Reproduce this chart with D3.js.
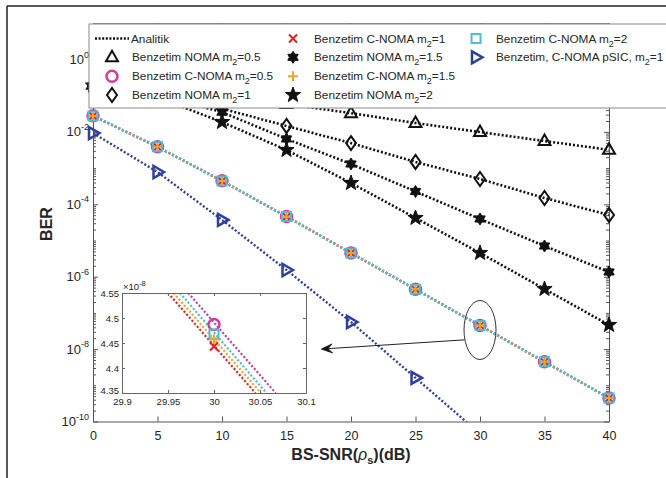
<!DOCTYPE html>
<meta charset="utf-8">
<style>
body { margin: 0; background: #fff; }
text { font-family: "Liberation Sans", Arial, sans-serif; fill: #262626; }
</style>
<svg width="666" height="478"></svg>
<script src="https://d3js.org/d3.v7.min.js"></script>
<script>

// ---- data ----
var snrDb = [0, 5, 10, 15, 20, 25, 30, 35, 40];
var snrTicks = [0, 5, 10, 15, 20, 25, 30, 35, 40];

var berNomaM05 = [0.2, 0.17, 0.105, 0.059, 0.033, 0.0176, 0.0099, 0.0056, 0.0032];
var berNomaM1  = [0.19, 0.12, 0.044, 0.0146, 0.0049, 0.00148, 5.0e-4, 1.49e-4, 5.06e-5];
var berNomaM15 = [0.19, 0.11, 0.035, 0.0064, 0.0013, 2.26e-4, 3.93e-5, 7.05e-6, 1.35e-6];
var berNomaM2  = [0.19, 0.09, 0.0187, 0.00316, 3.87e-4, 4.19e-5, 4.52e-6, 4.57e-7, 4.64e-8];

var berCnomaM05 = [2.8e-2, 3.9e-3, 4.45e-4, 4.6e-5, 4.55e-6, 4.5e-7, 4.487e-8, 4.48e-9, 4.47e-10];
var berCnomaM1  = [2.75e-2, 3.85e-3, 4.4e-4, 4.55e-5, 4.5e-6, 4.46e-7, 4.443e-8, 4.44e-9, 4.43e-10];
var berCnomaM15 = [2.76e-2, 3.86e-3, 4.42e-4, 4.56e-5, 4.52e-6, 4.47e-7, 4.457e-8, 4.45e-9, 4.44e-10];
var berCnomaM2  = [2.77e-2, 3.87e-3, 4.43e-4, 4.57e-5, 4.53e-6, 4.48e-7, 4.468e-8, 4.46e-9, 4.45e-10];

var snrPsic = [0, 5, 10, 15, 20, 25, 30];
var berPsicM1 = [9.3e-3, 7.8e-4, 3.7e-5, 1.53e-6, 5.6e-8, 1.6e-9, 4.6e-11];

var berMajorExp = [-10, -8, -6, -4, -2, 0];

// zoomed inset (x10^-8), analytic curves read where they cross the box
var insetBerEnds = [4.55, 4.35];
var insetRedX     = [29.950, 30.045];
var insetOrangeX  = [29.956, 30.051];
var insetCyanX    = [29.963, 30.057];
var insetMagentaX = [29.972, 30.067];
var insetXTicks = [29.9, 29.95, 30, 30.05, 30.1];
var insetYTicks = [4.35, 4.4, 4.45, 4.5, 4.55];

var legendLabels = [
  "Analitik", "Benzetim NOMA m2=0.5", "Benzetim C-NOMA m2=0.5", "Benzetim NOMA m2=1",
  "Benzetim C-NOMA m2=1", "Benzetim NOMA m2=1.5", "Benzetim C-NOMA m2=1.5", "Benzetim NOMA m2=2",
  "Benzetim C-NOMA m2=2", "Benzetim, C-NOMA pSIC, m2=1"
];

// ---- setup ----
var svg = d3.select("svg");
var magenta = "#d93a9c", magentaLine = "#b83fb8", red = "#ee1c1c",
    orange = "#f0a526", cyan = "#48bfd6", blue = "#2f3f9f";

var x = d3.scaleLinear().domain([0, 40]).range([93, 609]);
var y = d3.scaleLog().domain([1e-10, 1e1]).range([421.5, 23.3]);

// figure frame (top + left edge)
svg.append("line").attr("x1", 7).attr("x2", 666).attr("y1", 6).attr("y2", 6)
  .attr("stroke", "#222").attr("stroke-width", 1.5);
svg.append("line").attr("x1", 7).attr("x2", 7).attr("y1", 6).attr("y2", 478)
  .attr("stroke", "#222").attr("stroke-width", 1.5);

// marker shapes
function starPath(n, ro, ri) {
  var p = [];
  for (var i = 0; i < 2 * n; i++) {
    var r = i % 2 ? ri : ro, a = -Math.PI / 2 + i * Math.PI / n;
    p.push([r * Math.cos(a), r * Math.sin(a)]);
  }
  return "M" + p.map(function(d) { return d[0].toFixed(2) + "," + d[1].toFixed(2); }).join("L") + "Z";
}
var markers = {
  triUp:   { d: "M0,-6.5L6,4L-6,4Z", fill: "none" },
  triRight:{ d: "M6.5,0L-4,-6L-4,6Z", fill: "none" },
  diamond: { d: "M0,-7L5,0L0,7L-5,0Z", fill: "none" },
  circle:  { d: "M5.5,0A5.5,5.5 0 1,1 -5.5,0A5.5,5.5 0 1,1 5.5,0Z", fill: "none" },
  square:  { d: "M-4.5,-4.5H4.5V4.5H-4.5Z", fill: "none" },
  cross:   { d: "M-4,-4L4,4M-4,4L4,-4", fill: "none" },
  plus:    { d: "M-5,0H5M0,-5V5", fill: "none" },
  star:    { d: starPath(5, 8, 3.3), fill: "solid" },
  hex:     { d: starPath(6, 6, 3.6), fill: "solid" }
};

var series = [
  { x: snrDb, v: berNomaM05, line: "#111", mk: "triUp", col: "#111", sw: 2 },
  { x: snrDb, v: berNomaM1,  line: "#111", mk: "diamond", col: "#111", sw: 2 },
  { x: snrDb, v: berNomaM15, line: "#111", mk: "hex", col: "#111", sw: 1 },
  { x: snrDb, v: berNomaM2,  line: "#111", mk: "star", col: "#111", sw: 1 },
  { x: snrDb, v: berCnomaM05, line: magentaLine, mk: "circle", col: magenta, sw: 2.5 },
  { x: snrDb, v: berCnomaM1,  line: red, mk: "cross", col: red, sw: 2 },
  { x: snrDb, v: berCnomaM15, line: orange, mk: "plus", col: orange, sw: 2 },
  { x: snrDb, v: berCnomaM2,  line: cyan, mk: "square", col: cyan, sw: 2 },
  { x: snrPsic, v: berPsicM1, line: blue, mk: "triRight", col: blue, sw: 2.5 }
];

// ---- main axes ----
svg.append("clipPath").attr("id", "plotClip").append("rect")
  .attr("x", 93).attr("y", 23.3).attr("width", 516).attr("height", 398.2);

var axisColor = "#555";
var gx = svg.append("g").attr("transform", "translate(0,421.5)")
  .call(d3.axisBottom(x).tickValues(snrTicks).tickSizeInner(-5).tickSizeOuter(0).tickPadding(10));
svg.append("g").attr("transform", "translate(0,23.3)")
  .call(d3.axisTop(x).tickValues(snrTicks).tickSizeInner(-5).tickSizeOuter(0).tickFormat(""));

var majorTicks = berMajorExp.map(function(e) { return Math.pow(10, e); });
var minorTicks = [];
for (var e = -10; e < 1; e++) {
  for (var m = 1; m < 10; m++) {
    if (m === 1 && berMajorExp.indexOf(e) >= 0) continue;
    minorTicks.push(m * Math.pow(10, e));
  }
}
svg.append("g").attr("transform", "translate(93,0)")
  .call(d3.axisLeft(y).tickValues(majorTicks).tickSizeInner(-5).tickSizeOuter(0).tickFormat(""));
svg.append("g").attr("transform", "translate(609,0)")
  .call(d3.axisRight(y).tickValues(majorTicks).tickSizeInner(-5).tickSizeOuter(0).tickFormat(""));
svg.append("g").attr("transform", "translate(93,0)")
  .call(d3.axisLeft(y).tickValues(minorTicks).tickSizeInner(-3).tickSizeOuter(0).tickFormat(""))
  .select(".domain").remove();
svg.append("g").attr("transform", "translate(609,0)")
  .call(d3.axisRight(y).tickValues(minorTicks).tickSizeInner(-3).tickSizeOuter(0).tickFormat(""))
  .select(".domain").remove();

svg.selectAll(".domain, .tick line").attr("stroke", axisColor);
gx.selectAll(".tick text").attr("font-size", 12.5).attr("fill", "#262626")
  .style("font-family", "Liberation Sans, Arial, sans-serif");

// y tick labels 10^k
berMajorExp.forEach(function(k) {
  var t = svg.append("text").attr("x", 89).attr("y", y(Math.pow(10, k)) + 4.5)
    .attr("text-anchor", "end").attr("font-size", 13);
  t.append("tspan").text("10");
  t.append("tspan").attr("dy", -6.5).attr("font-size", 9).text(k);
});

// axis titles
svg.append("text").attr("transform", "translate(52,224) rotate(-90)")
  .attr("text-anchor", "middle").attr("font-size", 16).attr("font-weight", "bold").text("BER");
var xt = svg.append("text").attr("x", 351).attr("y", 460).attr("text-anchor", "middle")
  .attr("font-size", 16).attr("font-weight", "bold");
xt.append("tspan").text("BS-SNR(");
xt.append("tspan").attr("font-style", "italic").attr("font-weight", "normal").text("\u03c1");
xt.append("tspan").attr("dy", 4).attr("font-size", 11).text("s");
xt.append("tspan").attr("dy", -4).text(")(dB)");

// ---- curves ----
var plot = svg.append("g").attr("clip-path", "url(#plotClip)");
var line = d3.line().x(function(d) { return x(d[0]); }).y(function(d) { return y(d[1]); });
series.forEach(function(s, i) {
  var pts = s.x.map(function(xx, j) { return [xx, s.v[j]]; });
  plot.append("path").attr("d", line(pts)).attr("fill", "none")
    .attr("stroke", s.line).attr("stroke-width", i < 4 ? 2.6 : 2.4)
    .attr("stroke-dasharray", "2,2");
});

function drawMarker(g, s, px, py) {
  var mk = markers[s.mk];
  g.append("path").attr("d", mk.d).attr("transform", "translate(" + px + "," + py + ")")
    .attr("fill", mk.fill === "none" ? "none" : s.col)
    .attr("stroke", s.col).attr("stroke-width", s.sw).attr("stroke-linejoin", "miter");
}
var mg = svg.append("g");
series.forEach(function(s) {
  s.x.forEach(function(xx, j) {
    var v = s.v[j];
    if (v < 1e-10 || v > 1e1) return;
    drawMarker(mg, s, x(xx), y(v));
  });
});

// ---- annotation: ellipse + arrow ----
svg.append("ellipse").attr("cx", x(30)).attr("cy", y(3.37e-8)).attr("rx", 16).attr("ry", 29.5)
  .attr("fill", "none").attr("stroke", "#333").attr("stroke-width", 1);
var ax1 = x(28.8), ay1 = y(1.8e-8), ax2 = x(17.7), ay2 = y(1.0e-8);
svg.append("line").attr("x1", ax1).attr("y1", ay1).attr("x2", ax2 + 6).attr("y2", ay2 - 0.4)
  .attr("stroke", "#222").attr("stroke-width", 1);
var ang = Math.atan2(ay1 - ay2, ax1 - ax2);
var hl = 11, hw = 4.5;
function rot(px, py) {
  return [ax2 + px * Math.cos(ang) - py * Math.sin(ang), ay2 + px * Math.sin(ang) + py * Math.cos(ang)];
}
var h1 = rot(hl, -hw), h2 = rot(hl * 0.6, 0), h3 = rot(hl, hw);
svg.append("path").attr("d", "M" + ax2 + "," + ay2 + "L" + h1 + "L" + h2 + "L" + h3 + "Z")
  .attr("fill", "#111").attr("stroke", "#111").attr("stroke-width", 0.8);

// ---- inset ----
var ix = d3.scaleLinear().domain([29.9, 30.1]).range([122, 306]);
var iy = d3.scaleLinear().domain([4.35, 4.55]).range([393, 293]);
var inset = svg.append("g");
inset.append("rect").attr("x", 122).attr("y", 293).attr("width", 184).attr("height", 100)
  .attr("fill", "#fff");
svg.append("clipPath").attr("id", "insetClip").append("rect")
  .attr("x", 122).attr("y", 293).attr("width", 184).attr("height", 100);
var ig = inset.append("g").attr("clip-path", "url(#insetClip)");
[[insetRedX, red], [insetOrangeX, orange], [insetCyanX, cyan], [insetMagentaX, magentaLine]]
  .forEach(function(d) {
    ig.append("line")
      .attr("x1", ix(d[0][0])).attr("y1", iy(insetBerEnds[0]))
      .attr("x2", ix(d[0][1])).attr("y2", iy(insetBerEnds[1]))
      .attr("stroke", d[1]).attr("stroke-width", 2.2).attr("stroke-dasharray", "2,2");
  });
// inset markers at 30 dB
[series[4], series[7], series[6], series[5]].forEach(function(s) {
  drawMarker(inset, s, ix(30), iy(s.v[6] * 1e8));
});
inset.append("g").attr("transform", "translate(0,393)")
  .call(d3.axisBottom(ix).tickValues(insetXTicks).tickSizeInner(-3).tickSizeOuter(0).tickPadding(5)
    .tickFormat(d3.format("")));
inset.append("g").attr("transform", "translate(0,293)")
  .call(d3.axisTop(ix).tickValues(insetXTicks).tickSizeInner(-3).tickSizeOuter(0).tickFormat(""));
var igy = inset.append("g").attr("transform", "translate(122,0)")
  .call(d3.axisLeft(iy).tickValues(insetYTicks).tickSizeInner(-3).tickSizeOuter(0).tickPadding(3)
    .tickFormat(d3.format("")));
inset.append("g").attr("transform", "translate(306,0)")
  .call(d3.axisRight(iy).tickValues(insetYTicks).tickSizeInner(-3).tickSizeOuter(0).tickFormat(""));
inset.selectAll(".domain, .tick line").attr("stroke", "#666");
inset.selectAll(".tick text").attr("font-size", 9.5).attr("fill", "#262626")
  .style("font-family", "Liberation Sans, Arial, sans-serif");
// lowest y label sits just above the x labels, as in the figure
igy.selectAll(".tick text").filter(function(d) { return d === 4.35; }).attr("dy", "0.1em");
var ex = inset.append("text").attr("x", 123).attr("y", 290).attr("font-size", 9.5);
ex.append("tspan").text("\u00d710");
ex.append("tspan").attr("dy", -4).attr("font-size", 7.5).text("-8");

// ---- legend ----
var lg = svg.append("g");
lg.append("rect").attr("x", 89).attr("y", 24).attr("width", 590).attr("height", 84)
  .attr("fill", "#fff").attr("stroke", "#8a8a8a").attr("stroke-width", 1);
var rowY = [38.5, 57.3, 76.2, 95];
var colMk = [112, 293, 476], colTx = [132, 314, 496];
var legendStyles = [null, series[0], series[4], series[1], series[5], series[2], series[6], series[3], series[7], series[8]];
legendLabels.forEach(function(lab, i) {
  var col = Math.floor(i / 4), row = i % 4;
  var cy = rowY[row];
  if (i === 0) {
    lg.append("line").attr("x1", 95).attr("x2", 129).attr("y1", cy).attr("y2", cy)
      .attr("stroke", "#111").attr("stroke-width", 2.4).attr("stroke-dasharray", "2,1.6");
  } else {
    drawMarker(lg, legendStyles[i], colMk[col], cy);
  }
  var t = lg.append("text").attr("x", i === 0 ? 131 : colTx[col]).attr("y", cy + 4)
    .attr("font-size", 11.8);
  var parts = lab.split("m2");
  t.append("tspan").text(parts[0] + (parts.length > 1 ? "m" : ""));
  if (parts.length > 1) {
    t.append("tspan").attr("dy", 4).attr("font-size", 9).text("2");
    t.append("tspan").attr("dy", -4).text(parts[1]);
  }
});

</script>
